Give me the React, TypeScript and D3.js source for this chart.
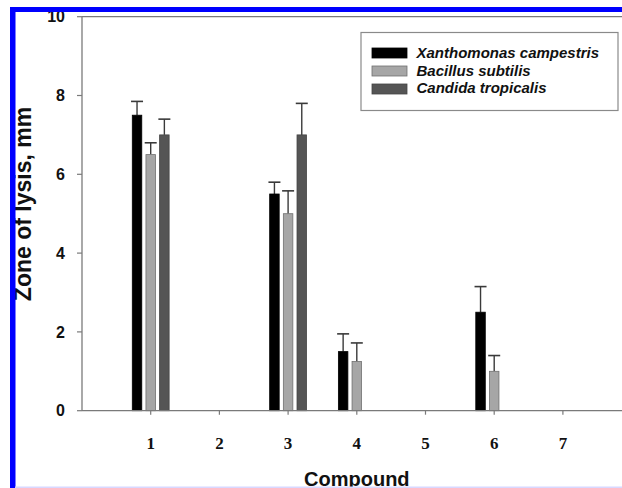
import React from "react";
import * as d3 from "d3";

const compounds = [1, 2, 3, 4, 5, 6, 7];
const seriesNames = ["Xanthomonas campestris", "Bacillus subtilis", "Candida tropicalis"];
const xanthomonas: (number | null)[] = [7.5, null, 5.5, 1.5, null, 2.5, null];
const xanthomonasErr: (number | null)[] = [0.35, null, 0.3, 0.45, null, 0.65, null];
const bacillus: (number | null)[] = [6.5, null, 5.0, 1.25, null, 1.0, null];
const bacillusErr: (number | null)[] = [0.3, null, 0.58, 0.47, null, 0.4, null];
const candida: (number | null)[] = [7.0, null, 7.0, null, null, null, null];
const candidaErr: (number | null)[] = [0.4, null, 0.8, null, null, null, null];
const yTicks = [0, 2, 4, 6, 8, 10];

const W = 622;
const H = 488;

export default function App() {
  const x = d3.scaleLinear().domain([0, 8]).range([82, 631.6]);
  const y = d3.scaleLinear().domain([0, 10]).range([410.7, 16.7]);
  const band = d3.scaleBand<string>().domain(seriesNames).range([-20.5, 20.5]).padding(0);
  const barW = 9.5;
  const fills = ["#000000", "#a6a6a6", "#555555"];
  const strokes = ["#000000", "#707070", "#444444"];
  const values = [xanthomonas, bacillus, candida];
  const errs = [xanthomonasErr, bacillusErr, candidaErr];
  const sans = "'Liberation Sans', Arial, sans-serif";
  const serif = "'Liberation Serif', 'Times New Roman', serif";
  const axisColor = "#7a7a7a";

  return (
    <svg width={W} height={H} style={{ position: "absolute", left: 0, top: 0, background: "#fff" }}>
      <rect x={0} y={0} width={W} height={H} fill="#ffffff" />
      {/* frame */}
      <line x1={x(0)} x2={W} y1={y(10)} y2={y(10)} stroke={axisColor} strokeWidth={1.3} />
      {/* bars */}
      {values.map((vals, si) =>
        compounds.map((c, ci) => {
          const v = vals[ci];
          if (v == null) return null;
          const cx = x(c) + (band(seriesNames[si]) as number) + band.bandwidth() / 2;
          const e = errs[si][ci] ?? 0;
          return (
            <g key={`${si}-${ci}`}>
              <line x1={cx} x2={cx} y1={y(v)} y2={y(v + e)} stroke="#3a3a3a" strokeWidth={1.4} />
              <line x1={cx - 6} x2={cx + 6} y1={y(v + e)} y2={y(v + e)} stroke="#3a3a3a" strokeWidth={1.6} />
              <rect
                x={cx - barW / 2}
                y={y(v)}
                width={barW}
                height={y(0) - y(v)}
                fill={fills[si]}
                stroke={strokes[si]}
                strokeWidth={0.8}
              />
            </g>
          );
        })
      )}
      {/* y axis */}
      <line x1={x(0)} x2={x(0)} y1={y(0)} y2={y(10)} stroke={axisColor} strokeWidth={1.3} />
      {yTicks.map((t) => (
        <g key={t}>
          <line x1={x(0) - 5} x2={x(0)} y1={y(t)} y2={y(t)} stroke={axisColor} strokeWidth={1.2} />
          <text
            x={65}
            y={y(t)}
            dy="0.36em"
            textAnchor="end"
            fontFamily={sans}
            fontWeight="bold"
            fontSize={16}
            fill="#111"
          >
            {t}
          </text>
        </g>
      ))}
      {/* x axis */}
      <line x1={x(0)} x2={W} y1={y(0)} y2={y(0)} stroke={axisColor} strokeWidth={1.3} />
      {compounds.map((c) => (
        <g key={c}>
          <line x1={x(c)} x2={x(c)} y1={y(0)} y2={y(0) + 4} stroke={axisColor} strokeWidth={1.2} />
          <text x={x(c)} y={449} textAnchor="middle" fontFamily={serif} fontWeight="bold" fontSize={17} fill="#111">
            {c}
          </text>
        </g>
      ))}
      {/* axis titles */}
      <text
        x={(x(0) + x(8)) / 2}
        y={486}
        textAnchor="middle"
        fontFamily={sans}
        fontWeight="bold"
        fontSize={20}
        fill="#111"
      >
        Compound
      </text>
      <text
        transform={`translate(31, 204) rotate(-90)`}
        textAnchor="middle"
        fontFamily={sans}
        fontWeight="bold"
        fontSize={23}
        fill="#111"
      >
        Zone of lysis, mm
      </text>
      {/* legend */}
      <rect x={361} y={32.5} width={257} height={78} fill="#fff" stroke="#8a8a8a" strokeWidth={1.2} />
      {seriesNames.map((s, i) => (
        <g key={s}>
          <rect
            x={372}
            y={48 + i * 18}
            width={35}
            height={10}
            fill={fills[i]}
            stroke={strokes[i]}
            strokeWidth={0.8}
          />
          <text
            x={416.5}
            y={58 + i * 17.6}
            fontFamily={sans}
            fontWeight="bold"
            fontStyle="italic"
            fontSize={15}
            fill="#111"
          >
            {s}
          </text>
        </g>
      ))}
      {/* blue border */}
      <rect x={10} y={7} width={W - 10} height={5} fill="#0000ff" />
      <rect x={10} y={7} width={5.5} height={H - 7} fill="#0000ff" />
      <rect x={15} y={486.5} width={W - 15} height={1.5} fill="#d8d8ff" />
    </svg>
  );
}
